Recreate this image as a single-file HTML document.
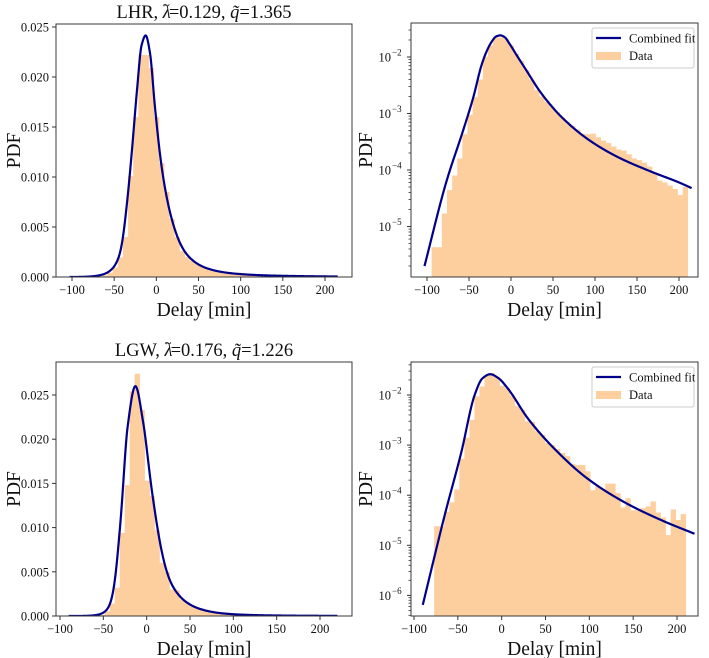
<!DOCTYPE html>
<html><head><meta charset="utf-8">
<style>
html,body{margin:0;padding:0;background:#fff;}
svg{display:block;font-family:"Liberation Serif","DejaVu Serif",serif;}
</style></head>
<body>
<svg id="fig" width="709" height="658" viewBox="0 0 709 658" xmlns="http://www.w3.org/2000/svg"></svg>
<script>
// ---------- data ----------
const lhrBinStart = -94.5, lhrBinWidth = 6.1;
const lhrHist = [4.3e-6,4.3e-6,1.7e-5,4.4e-5,8e-5,1.6e-4,4.3e-4,9.5e-4,1.95e-3,4.0e-3,
 0.0101,0.016,0.0222,0.0222,0.0209,0.016,0.0114,0.0085,0.0058,0.0040,
 2.6e-3,2.0e-3,1.6e-3,1.3e-3,1.05e-3,8.5e-4,7e-4,6e-4,5.2e-4,4.4e-4,
 4.3e-4,4.4e-4,3.8e-4,3.3e-4,3.0e-4,2.6e-4,2.3e-4,2.2e-4,1.9e-4,1.6e-4,
 1.5e-4,1.35e-4,1.15e-4,9e-5,6.5e-5,6e-5,5.3e-5,4.6e-5,3.6e-5,5e-5];
const lgwBinStart = -77, lgwBinWidth = 5.74;
const lgwHist = [2.4e-5,2.4e-5,4.7e-5,7.2e-5,1.3e-4,5.3e-4,1.4e-3,3.2e-3,9.4e-3,0.0148,
 0.0254,0.0274,0.0233,0.0153,0.0136,0.0097,0.0060,0.0050,0.0030,0.0029,
 0.0019,1.6e-3,1.1e-3,1.0e-3,8.3e-4,7e-4,6e-4,4.2e-4,4.0e-4,4.0e-4,
 3.0e-4,1.25e-4,1.5e-4,1.3e-4,1.7e-4,1.7e-4,1.1e-4,5.7e-5,8.7e-5,5e-5,
 5e-5,5.5e-5,6e-5,7.5e-5,4.5e-5,3.6e-5,1.6e-5,5.2e-5,3.2e-5,4.2e-5];
// fit curve, sampled (delay minutes, log10 PDF)
const lhrFitX = [-103,-77,-57,-45,-35,-29,-23,-17.5,-12.6,-7.5,-1.6,6.4,18,34,46,60,91,127,167,200,215];
const lhrFitLog = [-5.70,-4.21,-3.30,-2.72,-2.14,-1.90,-1.73,-1.635,-1.617,-1.65,-1.77,-1.96,-2.23,-2.60,-2.83,-3.06,-3.45,-3.77,-4.03,-4.22,-4.32];
const lgwFitX = [-90,-65,-46,-31,-22,-13,-4,7,30,60,98,140,185,220];
const lgwFitLog = [-6.19,-4.40,-3.14,-2.01,-1.67,-1.585,-1.66,-1.87,-2.47,-3.07,-3.67,-4.14,-4.52,-4.77];
const xTicks = [-100,-50,0,50,100,150,200];
const linTicks = [0,0.005,0.010,0.015,0.020,0.025];
const linTickLabels = ["0.000","0.005","0.010","0.015","0.020","0.025"];
const logTicksTop = [-2,-3,-4,-5];
const logTicksBottom = [-2,-3,-4,-5,-6];

// ---------- helpers ----------
const NS="http://www.w3.org/2000/svg";
const svg=document.getElementById('fig');
function mk(tag,attrs,parent){const e=document.createElementNS(NS,tag);for(const k in attrs)e.setAttribute(k,attrs[k]);(parent||svg).appendChild(e);return e;}

// monotone cubic (Fritsch-Carlson)
function splineSample(xs,ys,step){
  const n=xs.length, d=[], m=new Array(n);
  for(let i=0;i<n-1;i++)d.push((ys[i+1]-ys[i])/(xs[i+1]-xs[i]));
  m[0]=d[0]; m[n-1]=d[n-2];
  for(let i=1;i<n-1;i++){
    if(d[i-1]*d[i]<=0)m[i]=0;
    else{const h0=xs[i]-xs[i-1],h1=xs[i+1]-xs[i];const w1=2*h1+h0,w2=h1+2*h0;m[i]=(w1+w2)/(w1/d[i-1]+w2/d[i]);}
  }
  const out=[];
  for(let i=0;i<n-1;i++){
    const x0=xs[i],x1=xs[i+1],h=x1-x0;
    const k=Math.max(2,Math.ceil(h/step));
    for(let j=0;j<k;j++){const t=j/k,t2=t*t,t3=t2*t;
      const y=(2*t3-3*t2+1)*ys[i]+(t3-2*t2+t)*h*m[i]+(-2*t3+3*t2)*ys[i+1]+(t3-t2)*h*m[i+1];
      out.push([x0+t*h,y]);}
  }
  out.push([xs[n-1],ys[n-1]]);
  return out;
}

let clipId=0;
function panel(cfg){
  const g=mk('g',{});
  
  
  const {L,R,T,B}=cfg;
  const X=v=>cfg.x0px+(v-cfg.x0)*cfg.xs;
  let Y;
  if(cfg.log){Y=v=>cfg.ref+(-2-Math.log10(v))*cfg.dec;}
  else{Y=v=>B-(v)*cfg.ys;}
  const cid='clip'+(clipId++);
  const cp=mk('clipPath',{id:cid},g);mk('rect',{x:L,y:T,width:R-L,height:B-T},cp);
  const plot=mk('g',{'clip-path':'url(#'+cid+')'},g);
  cfg.hist.forEach((v,i)=>{
    const a=cfg.bs+i*cfg.bw, b=a+cfg.bw;
    const y=Y(v);
    const r=mk('rect',{x:X(a),y:y,width:X(b)-X(a)+0.3,height:Math.max(0,B-y),fill:'#fecf9e'},plot);
    
    
  });
  const pts=splineSample(cfg.fx,cfg.fl,0.5);
  const d=pts.map((p,i)=>(i?'L':'M')+X(p[0]).toFixed(2)+','+Y(Math.pow(10,p[1])).toFixed(2)).join('');
  const path=mk('path',{d:d,fill:'none',stroke:'#00008b','stroke-width':2.2,'stroke-linejoin':'round'},plot);
  
  
  const fr=mk('rect',{x:L,y:T,width:R-L,height:B-T,fill:'none',stroke:'#3a3a3a','stroke-width':1},g);
  
  
  xTicks.forEach(t=>{
    const x=X(t);
    mk('line',{x1:x,x2:x,y1:B,y2:B+4,stroke:'#333'},g);
    const tx=mk('text',{x:x,y:B+17,'font-size':12.5,'text-anchor':'middle',fill:'#111'},g);
    tx.textContent=(t<0?'\u2212'+(-t):''+t);
    
    
  });
  const xl=mk('text',{x:(L+R)/2,y:B+39,'font-size':19.5,'text-anchor':'middle',fill:'#111'},g);
  xl.textContent='Delay [min]';
  
  
  const yl=mk('text',{x:0,y:0,'font-size':19.5,'text-anchor':'middle',fill:'#111',transform:'translate('+(cfg.ylx)+','+((T+B)/2)+') rotate(-90)'},g);
  yl.textContent='PDF';
  
  
  if(cfg.log){
    const lo=Math.floor(-2-(B-cfg.ref)/cfg.dec);
    for(let e=lo;e<=-1;e++){for(let k=2;k<=9;k++){const y=Y(k*Math.pow(10,e));if(y>T&&y<B)mk('line',{x1:L-2.5,x2:L,y1:y,y2:y,stroke:'#333','stroke-width':0.8},g);}}
    cfg.logTicks.forEach(e=>{
      const y=Y(Math.pow(10,e));
      mk('line',{x1:L-4,x2:L,y1:y,y2:y,stroke:'#333'},g);
      const tx=mk('text',{x:L-20,y:y+4.5,'font-size':12.5,'text-anchor':'end',fill:'#111'},g);
      tx.textContent='10';
      
      
      const sp=mk('text',{x:L-19,y:y-1.5,'font-size':9,'text-anchor':'start',fill:'#111'},g);
      sp.textContent='\u2212'+(-e);
    });
  } else {
    linTicks.forEach((t,i)=>{
      const y=Y(t);
      mk('line',{x1:L-4,x2:L,y1:y,y2:y,stroke:'#333'},g);
      const tx=mk('text',{x:L-7,y:y+4.5,'font-size':12.5,'text-anchor':'end',fill:'#111'},g);
      tx.textContent=linTickLabels[i];
      
      
    });
  }
  if(cfg.title){
    const tt=mk('text',{x:(L+R)/2,y:T-6,'font-size':18.5,'text-anchor':'middle',fill:'#111'},g);
    tt.innerHTML=cfg.title;
    
    
  }
  if(cfg.legend){
    const lg=mk('g',{},g);
    
    
    const ly=T+5;
    mk('rect',{x:592,y:ly,width:102,height:40,rx:2,fill:'#fff',stroke:'#ccc','stroke-width':1},lg);
    mk('line',{x1:596,x2:621,y1:ly+10,y2:ly+10,stroke:'#00008b','stroke-width':2.2},lg);
    const t1=mk('text',{x:629,y:ly+14.5,'font-size':12.5,fill:'#111'},lg);t1.textContent='Combined fit';
    
    
    mk('rect',{x:596,y:ly+24,width:25,height:8,fill:'#fecf9e'},lg);
    const t2=mk('text',{x:629,y:ly+32,'font-size':12.5,fill:'#111'},lg);t2.textContent='Data';
    
    
  }
}

function titleMarkup(code,lam,q){
  return code+', <tspan font-style="italic">λ</tspan><tspan dx="-8" dy="-9" font-size="13">~</tspan><tspan dx="-1" dy="9">='+lam+', </tspan><tspan font-style="italic">q̃</tspan>='+q;
}

panel({name:'lhr-linear-panel',L:56,R:352,T:24,B:277,x0:-100,x0px:72,xs:253/300,ys:250/0.025,
  hist:lhrHist,bs:lhrBinStart,bw:lhrBinWidth,fx:lhrFitX,fl:lhrFitLog,ylx:20,
  title:titleMarkup('LHR','0.129','1.365')});
panel({name:'lhr-log-panel',L:411,R:698,T:23,B:277,x0:-100,x0px:427,xs:252/300,log:true,ref:57,dec:56.5,
  hist:lhrHist,bs:lhrBinStart,bw:lhrBinWidth,fx:lhrFitX,fl:lhrFitLog,ylx:372,logTicks:logTicksTop,legend:true});
panel({name:'lgw-linear-panel',L:56,R:352,T:362,B:616,x0:-100,x0px:60,xs:260/300,ys:221/0.025,
  hist:lgwHist,bs:lgwBinStart,bw:lgwBinWidth,fx:lgwFitX,fl:lgwFitLog,ylx:20,
  title:titleMarkup('LGW','0.176','1.226')});
panel({name:'lgw-log-panel',L:411,R:698,T:362,B:616,x0:-100,x0px:414,xs:263/300,log:true,ref:395,dec:50.1,
  hist:lgwHist,bs:lgwBinStart,bw:lgwBinWidth,fx:lgwFitX,fl:lgwFitLog,ylx:372,logTicks:logTicksBottom,legend:true});
</script>
</body></html>
